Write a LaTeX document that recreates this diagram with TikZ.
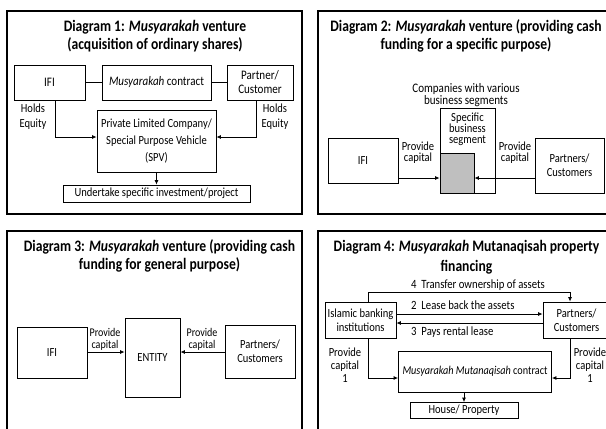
\documentclass[tikz,border=0pt]{standalone}
\usepackage{fontspec}
\setmainfont{Carlito}[FakeStretch=0.85]
\usetikzlibrary{arrows.meta}
\begin{document}
\begin{tikzpicture}[x=1pt,y=-1pt,
  panel/.style={draw, line width=1.8pt},
  box/.style={draw, line width=0.8pt, inner sep=0pt, align=center,
    font=\fontsize{12.4}{14}\selectfont},
  lbl/.style={inner sep=0pt, align=center, font=\fontsize{11.8}{11}\selectfont},
  ttl/.style={inner sep=0pt, align=center, font=\bfseries\fontsize{16}{18}\selectfont},
  arr/.style={line width=0.8pt, -{Latex[length=4.5pt,width=4pt]}},
  link/.style={line width=0.8pt}]
\useasboundingbox (0,0) rectangle (606,429);
\clip (0,0) rectangle (606,429);
\fill[white] (0,0) rectangle (606,429);

% ---------- Panel 1 ----------
\draw[panel] (7,11) rectangle (302,214);
\node[ttl] (t1) at (155,36) {Diagram 1: \textit{Musyarakah} venture\\(acquisition of ordinary shares)};
\node[box, minimum width=71, minimum height=35, font=\fontsize{13}{14}\selectfont] (ifi1) at (49.5,82.5) {IFI};
\node[box, minimum width=109, minimum height=35, font=\fontsize{13}{14}\selectfont] (con1) at (156.5,82.5) {\textit{Musyarakah} contract};
\node[box, minimum width=66, minimum height=35, font=\fontsize{13}{14}\selectfont] (par1) at (260,82.5) {Partner/\\Customer};
\node[box, minimum width=119, minimum height=62, font=\fontsize{12.4}{17}\selectfont] (spv1) at (156.5,141)
  {Private Limited Company/\\Special Purpose Vehicle\\(SPV)};
\node[box, minimum width=187, minimum height=17, font=\fontsize{12.4}{14}\selectfont] (und1) at (156.5,193.5) {Undertake specific investment/project};
\node[lbl, font=\fontsize{12.4}{15}\selectfont] (he1l) at (33,117) {Holds\\Equity};
\node[lbl, font=\fontsize{12.4}{15}\selectfont] (he1r) at (275,117) {Holds\\Equity};
\coordinate (h1l) at (55,137);
\coordinate (h1r) at (256,137);
\draw[link] (ifi1) -- (con1);
\draw[link] (con1) -- (par1);
\draw[arr] (ifi1.south -| h1l) |- (spv1.west |- h1l);
\draw[arr] (par1.south -| h1r) |- (spv1.east |- h1r);
\draw[arr] (spv1) -- (und1);

% ---------- Panel 2 ----------
\draw[panel] (318,11) rectangle (620,214);
\node[ttl] (t2) at (466,36) {Diagram 2: \textit{Musyarakah} venture (providing cash\\funding for a specific purpose)};
\node[lbl, font=\fontsize{13}{11}\selectfont] (cmp2) at (466,95) {Companies with various\\business segments};
\node[box, minimum width=55, minimum height=85] (seg2) at (467.5,150.5) {};
\node[lbl, font=\fontsize{12.4}{11}\selectfont] (segt2) at (467.5,129) {Specific\\business\\segment};
\node[box, fill=gray!50, minimum width=34, minimum height=40] (gry2) at (457,173) {};
\node[box, minimum width=70, minimum height=45] (ifi2) at (363,160.5) {IFI};
\node[box, minimum width=69, minimum height=55] (par2) at (569.5,165.5) {Partners/\\Customers};
\node[lbl, font=\fontsize{12.4}{11}\selectfont] (pc2l) at (418,153) {Provide\\capital};
\node[lbl, font=\fontsize{12.4}{11}\selectfont] (pc2r) at (515,153) {Provide\\capital};
\coordinate (y2) at (0,178);
\draw[arr] (ifi2.east |- y2) -- (gry2.west |- y2);
\draw[arr] (par2.west |- y2) -- (gry2.east |- y2);

% ---------- Panel 3 ----------
\draw[panel] (7,231) rectangle (302,450);
\node[ttl] (t3) at (159.5,256) {Diagram 3: \textit{Musyarakah} venture (providing cash\\funding for general purpose)};
\node[box, minimum width=70, minimum height=51] (ifi3) at (52,352.5) {IFI};
\node[box, minimum width=55, minimum height=79] (ent3) at (152.5,357.5) {ENTITY};
\node[box, minimum width=70, minimum height=53] (par3) at (260,351.5) {Partners/\\Customers};
\node[lbl, font=\fontsize{11.8}{12}\selectfont] (pc3l) at (105,339) {Provide\\capital};
\node[lbl, font=\fontsize{11.8}{12}\selectfont] (pc3r) at (202,339) {Provide\\capital};
\coordinate (y3) at (0,352);
\draw[arr] (ifi3.east |- y3) -- (ent3.west |- y3);
\draw[arr] (par3.west |- y3) -- (ent3.east |- y3);

% ---------- Panel 4 ----------
\draw[panel] (318,231) rectangle (620,450);
\node[ttl, font=\bfseries\fontsize{16}{20}\selectfont] (t4) at (466.5,257) {Diagram 4: \textit{Musyarakah} Mutanaqisah property\\financing};
\node[box, minimum width=71, minimum height=36] (isl4) at (360.5,320) {Islamic banking\\institutions};
\node[box, minimum width=67, minimum height=36] (par4) at (576.5,320) {Partners/\\Customers};
\node[box, minimum width=153, minimum height=41, font=\fontsize{12}{14}\selectfont] (con4) at (475,371.5) {\textit{Musyarakah Mutanaqisah} contract};
\node[box, minimum width=108, minimum height=16] (hou4) at (464,410.5) {House/ Property};
\node[lbl, anchor=west, font=\fontsize{12.6}{12}\selectfont] (l44) at (411,285) {4~~Transfer ownership of assets};
\node[lbl, anchor=west, font=\fontsize{12.6}{12}\selectfont] (l24) at (411,305) {2~~Lease back the assets};
\node[lbl, anchor=west, font=\fontsize{12.6}{12}\selectfont] (l34) at (411,332) {3~~Pays rental lease};
\node[lbl, font=\fontsize{12.4}{13}\selectfont] (pc4l) at (345,365) {Provide\\capital\\1};
\node[lbl, font=\fontsize{12.4}{13}\selectfont] (pc4r) at (590,365) {Provide\\capital\\1};
\coordinate (tl4) at (368,292);
\coordinate (tr4) at (570,292);
\coordinate (ya4) at (0,314);
\coordinate (yb4) at (0,323);
\coordinate (bl4) at (368,378);
\coordinate (br4) at (570,378);
\draw[arr] (isl4.north -| tl4) |- (tr4) -- (par4.north -| tr4);
\draw[arr] (isl4.east |- ya4) -- (par4.west |- ya4);
\draw[arr] (par4.west |- yb4) -- (isl4.east |- yb4);
\draw[arr] (isl4.south -| bl4) |- (con4.west |- bl4);
\draw[arr] (par4.south -| br4) |- (con4.east |- br4);
\draw[arr] (con4.south -| hou4.north) -- (hou4.north);
\end{tikzpicture}
\end{document}
